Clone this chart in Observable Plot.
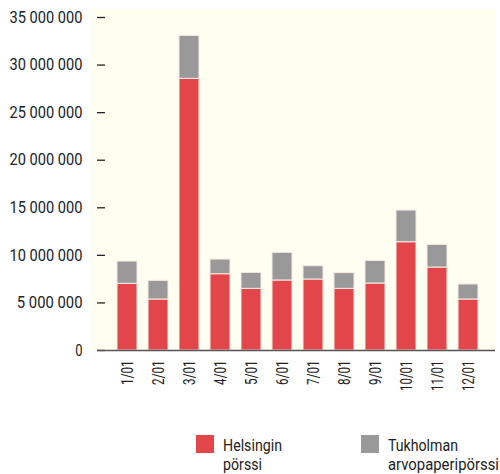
<!DOCTYPE html>
<html>
<head>
<meta charset="utf-8">
<script src="https://cdn.jsdelivr.net/npm/d3@7"></script>
<script src="https://cdn.jsdelivr.net/npm/@observablehq/plot@0.6"></script>
<style>
  body { margin: 0; background: #fff; font-family: Roboto, sans-serif; }
  #wrap { position: relative; width: 500px; height: 474px; overflow: hidden; }
  .legend { position: absolute; top: 435px; font-size: 17px; line-height: 19px; color: #222; }
  .sw { position: absolute; top: 0; left: 0; width: 18px; height: 18px; }
  .lt { position: absolute; left: 27px; top: 1px; white-space: nowrap; }
  .ln { display: block; transform-origin: 0 50%; width: max-content; }
</style>
</head>
<body>
<div id="wrap"></div>
<script>
const months = ["1/01","2/01","3/01","4/01","5/01","6/01","7/01","8/01","9/01","10/01","11/01","12/01"];
const helsinki = [7010000, 5360000, 28550000, 8020000, 6480000, 7360000, 7460000, 6480000, 7040000, 11380000, 8720000, 5360000];
const totals = [9350000, 7320000, 33070000, 9560000, 8160000, 10270000, 8860000, 8130000, 9420000, 14710000, 11100000, 6940000];
const stockholm = totals.map((t, i) => t - helsinki[i]);
const seriesNames = ["Helsingin pörssi", "Tukholman arvopaperipörssi"];
const legendLines = [["Helsingin", "pörssi"], ["Tukholman", "arvopaperipörssi"]];
const seriesColors = ["#e2464a", "#999999"];
const yTicks = [0, 5000000, 10000000, 15000000, 20000000, 25000000, 30000000, 35000000];

const data = [];
months.forEach((m, i) => {
  data.push({month: m, series: seriesNames[0], value: helsinki[i]});
  data.push({month: m, series: seriesNames[1], value: stockholm[i]});
});

const fmt = d => d3.format(",")(d).replace(/,/g, " ");

const chart = Plot.plot({
  width: 500,
  height: 420,
  marginTop: 17,
  marginBottom: 70,
  marginLeft: 97,
  marginRight: 3,
  style: {fontFamily: "Roboto, sans-serif", fontSize: "16.5px", color: "#222", background: "transparent", overflow: "visible"},
  x: {domain: months, paddingInner: 0.37, paddingOuter: 0.49, label: null},
  y: {domain: [0, 35000000], label: null},
  color: {domain: seriesNames, range: seriesColors},
  marks: [
    Plot.frame({fill: "#fefef1", stroke: null, insetLeft: -7, insetTop: -9, insetRight: 2}),
    Plot.axisY({ticks: yTicks, tickSize: 0, tickPadding: 15, tickFormat: fmt, label: null, className: "ylab"}),
    Plot.axisY({ticks: yTicks, tickSize: -8, tickFormat: () => "", stroke: "#222", strokeWidth: 1.3, label: null}),
    Plot.barY(data, {x: "month", y: "value", fill: "series", stroke: "#f6ece4", strokeWidth: 1, order: seriesNames}),
    Plot.ruleY([0], {stroke: "#555", strokeWidth: 1.6, insetRight: 2}),
    Plot.axisX({tickSize: 0, tickPadding: 10, tickRotate: -90, label: null, fontSize: 16, className: "xlab"})
  ]
});

const wrap = document.getElementById("wrap");
wrap.appendChild(chart);

// condense the axis labels to mimic the narrow typeface of the original
d3.select(chart).selectAll(".ylab text").each(function() {
  const s = this.textContent;
  if (!s) return;
  this.setAttribute("textLength", (s.length * 7.3).toFixed(1));
  this.setAttribute("lengthAdjust", "spacingAndGlyphs");
});
d3.select(chart).selectAll(".xlab text").each(function() {
  const s = this.textContent;
  if (!s) return;
  this.setAttribute("textLength", (s.length * 6.1).toFixed(1));
  this.setAttribute("lengthAdjust", "spacingAndGlyphs");
});

const legendLeft = [196, 361];
const legendWidths = [[59, 39], [70, 111]];
legendLines.forEach((lines, k) => {
  const d = document.createElement("div");
  d.className = "legend";
  d.style.left = legendLeft[k] + "px";
  const sw = document.createElement("div");
  sw.className = "sw";
  sw.style.background = seriesColors[k];
  d.appendChild(sw);
  const lt = document.createElement("div");
  lt.className = "lt";
  lines.forEach((t) => {
    const sp = document.createElement("span");
    sp.className = "ln";
    sp.textContent = t;
    lt.appendChild(sp);
  });
  d.appendChild(lt);
  wrap.appendChild(d);
  lt.querySelectorAll(".ln").forEach((sp, j) => {
    const w = sp.getBoundingClientRect().width;
    sp.style.transform = `scaleX(${legendWidths[k][j] / w})`;
  });
});
</script>
</body>
</html>
